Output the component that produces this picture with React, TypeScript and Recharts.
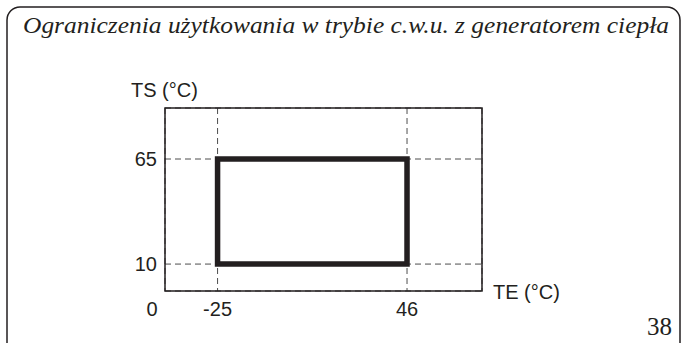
import React from 'react';
import {
  LineChart,
  Line,
  XAxis,
  YAxis,
  CartesianGrid,
  ReferenceArea,
} from 'recharts';

// limits of the operating range (TE = outside temp, TS = water temp)
const teLimits = [-25, 46];
const tsLimits = [10, 65];
const teTicks = [-25, 46];
const tsTicks = [10, 65];

// the schematic axes are not drawn to scale from 0, so the visible range is fixed
const teDomain = [-44.7, 74.1];
const tsDomain = [-4.1, 91.7];

const title = 'Ograniczenia użytkowania w trybie c.w.u. z generatorem ciepła';
const pageNumber = '38';

// closed outline of the allowed zone
const outline = [
  { te: teLimits[0], ts: tsLimits[0] },
  { te: teLimits[0], ts: tsLimits[1] },
  { te: teLimits[1], ts: tsLimits[1] },
  { te: teLimits[1], ts: tsLimits[0] },
  { te: teLimits[0], ts: tsLimits[0] },
];

const INK = '#231f20';
const SANS = 'Liberation Sans, Arimo, Arial, sans-serif';
const SERIF = 'Liberation Serif, DejaVu Serif, serif';

export default function App() {
  const tick = { fill: INK, fontSize: 20, style: { fontFamily: SANS } };
  const sans = { fontFamily: SANS, fontSize: 20 };

  return (
    <div style={{ position: 'absolute', left: 0, top: 0, width: 681, height: 343, background: '#fff', overflow: 'hidden', fontFamily: SANS }}>
      <LineChart
        width={681}
        height={343}
        data={outline}
        margin={{ top: 108, right: 199, bottom: 22, left: 105 }}
        style={{ fontFamily: SANS }}
      >
        <CartesianGrid stroke="#4d4d4d" strokeWidth={1} strokeDasharray="6 4" />
        <XAxis
          dataKey="te"
          type="number"
          domain={teDomain}
          ticks={teTicks}
          allowDataOverflow
          axisLine={false}
          tickLine={false}
          tickSize={0}
          tickMargin={11}
          height={30}
          tick={tick}
        />
        <YAxis
          dataKey="ts"
          type="number"
          domain={tsDomain}
          ticks={tsTicks}
          allowDataOverflow
          axisLine={false}
          tickLine={false}
          tickSize={0}
          tickMargin={8}
          width={60}
          tick={tick}
        />
        <ReferenceArea
          x1={teDomain[0]}
          x2={teDomain[1]}
          y1={tsDomain[0]}
          y2={tsDomain[1]}
          fill="none"
          fillOpacity={0}
          stroke={INK}
          strokeWidth={1.5}
        />
        <Line
          type="linear"
          dataKey="ts"
          stroke={INK}
          strokeWidth={5.5}
          strokeLinecap="square"
          strokeLinejoin="miter"
          dot={false}
          activeDot={false}
          isAnimationActive={false}
        />
      </LineChart>

      <svg
        width={681}
        height={343}
        style={{ position: 'absolute', left: 0, top: 0, pointerEvents: 'none' }}
      >
        <rect x={7} y={7} width={673} height={350} rx={13} fill="none" stroke={INK} strokeWidth={1.5} />
        <text
          x={23}
          y={33}
          style={{ fontFamily: SERIF, fontStyle: 'italic', fontSize: 24 }}
          fill={INK}
          textLength={646}
          lengthAdjust="spacingAndGlyphs"
        >
          {title}
        </text>
        <text x={131} y={97} style={sans} fill={INK}>TS (°C)</text>
        <text x={493} y={299} style={sans} fill={INK}>TE (°C)</text>
        <text x={152} y={316} style={sans} fill={INK} textAnchor="middle">0</text>
        <text x={647} y={335} style={{ fontFamily: SERIF, fontSize: 25 }} fill={INK}>{pageNumber}</text>
      </svg>
    </div>
  );
}
